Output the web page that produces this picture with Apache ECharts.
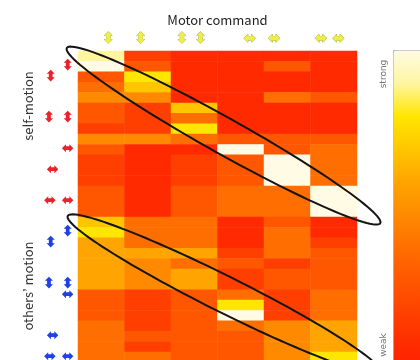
<!DOCTYPE html>
<html>
<head>
<meta charset="utf-8">
<script src="https://cdn.jsdelivr.net/npm/echarts@6/dist/echarts.min.js"></script>
<style>
  html, body { margin: 0; padding: 0; background: #fff; }
  #chart { width: 420px; height: 360px; }
</style>
</head>
<body>
<div id="chart"></div>
<script>
// motor commands (columns): ud = up-down arrow, lr = left-right arrow, "2" = pair of arrows
const motorCommands = ['ud', 'ud', 'ud2', 'lr', 'lr', 'lr2'];

// arrow labels down the left side ("-out" sits in the outer column)
const selfRows = ['', 'ud', 'ud-out', '', '', '', 'ud2', '', '', 'lr', '', 'lr-out', '', '', 'lr2', ''];
const othersRows = ['', 'ud', 'ud-out', '', '', '', 'ud2', 'lr', '', '', '', 'lr-out', '', 'lr2', '', ''];

// response strength, 0 = weak ... 10 = strong, one row per stimulus
const selfMotion = [
  [9, 2, 1, 1, 1, 1],
  [10, 3, 1, 1, 3, 1],
  [3, 8, 1, 1, 1, 1],
  [4, 7, 1, 1, 1, 1],
  [5, 5, 1, 1, 4, 3],
  [3, 2, 7, 1, 1, 1],
  [3, 2, 4, 1, 1, 1],
  [2, 2, 8, 1, 1, 1],
  [5, 5, 4, 3, 3, 3],
  [3, 1, 1, 10, 3, 4],
  [2, 1, 2, 3, 10, 4],
  [2, 1, 2, 3, 10, 4],
  [2, 1, 2, 3, 10, 4],
  [3, 1, 3, 4, 4, 10],
  [3, 1, 3, 4, 4, 10],
  [3, 1, 3, 4, 4, 10]
];
const othersMotion = [
  [7, 4, 4, 1, 3, 1],
  [8, 4, 4, 1, 4, 1],
  [6, 4, 4, 1, 4, 2],
  [6, 6, 6, 2, 4, 3],
  [6, 5, 4, 3, 2, 3],
  [6, 5, 6, 2, 3, 3],
  [6, 5, 6, 2, 3, 3],
  [3, 2, 3, 4, 2, 4],
  [3, 2, 3, 8, 2, 4],
  [3, 2, 3, 10, 2, 4],
  [4, 2, 3, 4, 5, 6],
  [4, 3, 3, 3, 5, 6],
  [4, 2, 3, 3, 5, 6],
  [4, 4, 3, 3, 5, 8],
  [4, 3, 3, 3, 5, 9],
  [4, 3, 3, 3, 5, 10]
];

const palette = ['#ff1a00', '#ff2a00', '#ff3f00', '#ff5600', '#ff6e00', '#ff8a00',
  '#ffa400', '#ffc600', '#ffe600', '#fff5a0', '#fffbe4'];

// ellipses drawn round the diagonals, ends given in cell units (column, row)
const ellipses = [
  { from: [-0.74, -0.79], to: [6.0, 16.1] },
  { from: [-0.72, 15.4], to: [6.0, 30.45] }
];
const ellipseHalfWidth = 18;

// the top arrows are not quite centred on their columns (px)
const topShift = [7, -7, -3, 9, -13, -4];

const rows = selfRows.concat(othersRows);
const values = selfMotion.concat(othersMotion);
const cells = [];
values.forEach((r, y) => r.forEach((v, x) => cells.push([x, y, v])));

const glyph = { ud: '⬍', lr: '⬌' };
function arrowLabel(code, c) {
  if (!code) return '';
  const k = code.slice(0, 2);
  const g = '{' + c + k + '|' + glyph[k] + '}';
  if (code.endsWith('2')) return g + '{gap' + k + '| }' + g;
  if (code.endsWith('-out')) return g + '{out' + k + '| }';
  return g;
}

const arrowFont = { fontFamily: 'DejaVu Sans', fontSize: 15, fontWeight: 'bold' };
const rich = {
  rud: { ...arrowFont, color: '#e8232b' },
  rlr: { ...arrowFont, color: '#e8232b' },
  bud: { ...arrowFont, color: '#1f40e6' },
  blr: { ...arrowFont, color: '#1f40e6' },
  yud: { ...arrowFont, color: '#eeee44', textBorderColor: '#a0a030', textBorderWidth: 0.7 },
  ylr: { ...arrowFont, color: '#eeee44', textBorderColor: '#a0a030', textBorderWidth: 0.7 },
  gapud: { width: 6 },
  gaplr: { width: 5 },
  outud: { width: 17 },
  outlr: { width: 15 }
};
topShift.forEach(s => { rich['w' + Math.abs(s)] = { width: Math.abs(s) * 2 }; });

function topLabel(v, i) {
  const s = topShift[i];
  const pad = '{w' + Math.abs(s) + '| }';
  const lab = arrowLabel(v, 'y');
  return s > 0 ? pad + lab : lab + pad;
}

const chart = echarts.init(document.getElementById('chart'));

chart.setOption({
  animation: false,
  grid: { left: 78, right: 63, top: 51, bottom: -23, outerBoundsMode: 'none' },
  xAxis: {
    type: 'category',
    position: 'top',
    data: motorCommands,
    name: 'Motor command',
    nameLocation: 'middle',
    nameGap: 22,
    nameTextStyle: { fontFamily: 'Noto Sans CJK JP', fontSize: 13, color: '#222' },
    axisLine: { show: false },
    axisTick: { show: false },
    splitLine: { show: false },
    axisLabel: { margin: 4, interval: 0, formatter: topLabel, rich }
  },
  yAxis: {
    type: 'category',
    inverse: true,
    data: rows.map((r, i) => i + ':' + r),
    axisLine: { show: false },
    axisTick: { show: false },
    splitLine: { show: false },
    axisLabel: {
      margin: 4,
      interval: 0,
      formatter: v => {
        const i = parseInt(v, 10);
        return arrowLabel(rows[i], i < selfRows.length ? 'r' : 'b');
      },
      rich
    }
  },
  visualMap: {
    type: 'continuous',
    min: 0,
    max: 10,
    orient: 'vertical',
    left: 393,
    top: 50,
    itemWidth: 40,
    itemHeight: 330,
    padding: 0,
    borderColor: '#b4b4b4',
    borderWidth: 1,
    calculable: false,
    hoverLink: false,
    inRange: { color: palette }
  },
  series: [{
    type: 'heatmap',
    data: cells,
    itemStyle: { borderWidth: 0 },
    emphasis: { disabled: true },
    progressive: 0
  }]
});

// ellipse outlines and side texts
const p0 = chart.convertToPixel({ gridIndex: 0 }, [0, 0]);
const p1 = chart.convertToPixel({ gridIndex: 0 }, [5, 31]);
const toPx = ([u, v]) => [p0[0] + u * (p1[0] - p0[0]) / 5, p0[1] + v * (p1[1] - p0[1]) / 31];

const rings = ellipses.map((e, n) => {
  const a = toPx(e.from), b = toPx(e.to);
  const cx = (a[0] + b[0]) / 2, cy = (a[1] + b[1]) / 2;
  const len = Math.hypot(b[0] - a[0], b[1] - a[1]) / 2;
  const ang = Math.atan2(b[1] - a[1], b[0] - a[0]);
  const pts = [];
  for (let i = 0; i < 120; i++) {
    const t = i / 120 * Math.PI * 2;
    const ex = len * Math.cos(t), ey = ellipseHalfWidth * Math.sin(t);
    pts.push([cx + ex * Math.cos(ang) - ey * Math.sin(ang), cy + ex * Math.sin(ang) + ey * Math.cos(ang)]);
  }
  return {
    type: 'polygon', id: 'ell' + n, z: 100,
    shape: { points: pts },
    style: { fill: 'none', stroke: '#141414', lineWidth: 2 }
  };
});

const sideText = (id, text, x, y, size, color, font) => ({
  type: 'text', id, x, y, rotation: Math.PI / 2, z: 100,
  style: { text, fill: color, font: size + 'px "' + font + '"', textAlign: 'center', textVerticalAlign: 'middle', verticalAlign: 'middle' }
});

chart.setOption({
  graphic: rings.concat([
    sideText('t1', 'self-motion', 28, 106, 13, '#333', 'Noto Sans CJK JP'),
    sideText('t2', 'others’ motion', 28, 286, 13, '#333', 'Noto Sans CJK JP'),
    sideText('t3', 'strong', 384, 74, 9, '#777', 'DejaVu Sans'),
    sideText('t4', 'weak', 384, 345, 9, '#777', 'DejaVu Sans')
  ])
});
</script>
</body>
</html>
